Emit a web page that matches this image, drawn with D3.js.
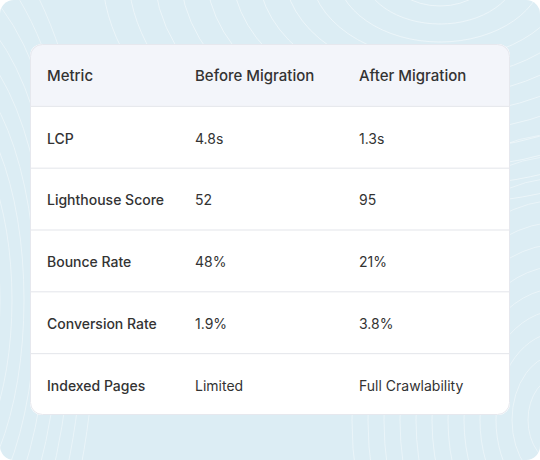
<html lang='en'>
<head>
<meta charset="utf-8">
<script src="https://d3js.org/d3.v7.min.js"></script>
<style>
  body { margin: 0; background: #fff; }
  svg { display: block; font-family: Inter, "Open Sans", sans-serif; }
</style>
</head>
<body>
<script>
var columns = ["Metric", "Before Migration", "After Migration"];
var metrics = ["LCP", "Lighthouse Score", "Bounce Rate", "Conversion Rate", "Indexed Pages"];
var before = ["4.8s", "52", "48%", "1.9%", "Limited"];
var after = ["1.3s", "95", "21%", "3.8%", "Full Crawlability"];

var W = 540, H = 460;
var card = {x: 30, y: 44, w: 480, h: 371};
var svg = d3.select("body").append("svg").attr("width", W).attr("height", H);

svg.append("clipPath").attr("id", "bgclip")
  .append("rect").attr("width", W).attr("height", H).attr("rx", 14);
var bg = svg.append("g").attr("clip-path", "url(#bgclip)");
bg.append("rect").attr("width", W).attr("height", H).attr("fill", "#dcedf4");

// faint contour lines
var rings = d3.range(1, 14);
bg.selectAll("ellipse.c1").data(rings).enter().append("ellipse")
  .attr("cx", 440).attr("cy", -30)
  .attr("rx", function(d) { return d * 26; }).attr("ry", function(d) { return d * 18; })
  .attr("fill", "none").attr("stroke", "#fff").attr("stroke-opacity", 0.45);
bg.selectAll("ellipse.c2").data(rings).enter().append("ellipse")
  .attr("cx", -60).attr("cy", 300)
  .attr("rx", function(d) { return d * 12; }).attr("ry", function(d) { return d * 30; })
  .attr("fill", "none").attr("stroke", "#fff").attr("stroke-opacity", 0.4);
bg.selectAll("ellipse.c3").data(rings).enter().append("ellipse")
  .attr("cx", 560).attr("cy", 420)
  .attr("rx", function(d) { return d * 16; }).attr("ry", function(d) { return d * 22; })
  .attr("fill", "none").attr("stroke", "#fff").attr("stroke-opacity", 0.4);

svg.append("clipPath").attr("id", "cardclip")
  .append("rect").attr("x", card.x).attr("y", card.y).attr("width", card.w).attr("height", card.h).attr("rx", 12);
var g = svg.append("g").attr("clip-path", "url(#cardclip)");
g.append("rect").attr("x", card.x).attr("y", card.y).attr("width", card.w).attr("height", card.h).attr("fill", "#fff");

var rowsData = metrics.map(function(m, i) { return [m, before[i], after[i]]; });
var y = d3.scaleBand().domain(d3.range(rowsData.length + 1)).range([card.y, card.y + card.h]);
var x = d3.scaleOrdinal().domain(columns).range([47, 195, 359]);

g.append("rect").attr("x", card.x).attr("y", y(0)).attr("width", card.w).attr("height", y.bandwidth())
  .attr("fill", "#f3f5fa");

g.selectAll("line.sep").data(d3.range(1, rowsData.length + 1)).enter().append("line")
  .attr("x1", card.x).attr("x2", card.x + card.w)
  .attr("y1", function(d) { return y(d) + 0.5; }).attr("y2", function(d) { return y(d) + 0.5; })
  .attr("stroke", "#e3e5ea");

g.selectAll("text.head").data(columns).enter().append("text")
  .attr("x", function(d) { return x(d); })
  .attr("y", y(0) + y.bandwidth() / 2 + 1).attr("dy", "0.35em")
  .attr("font-size", 15).attr("font-weight", 500).attr("fill", "#333")
  .text(function(d) { return d; });

var rows = g.selectAll("g.row").data(rowsData).enter().append("g");
rows.selectAll("text").data(function(d, i) { return d.map(function(v, j) { return {v: v, r: i + 1, c: j}; }); })
  .enter().append("text")
  .attr("x", function(d) { return x(columns[d.c]); })
  .attr("y", function(d) { return y(d.r) + y.bandwidth() / 2 + 2; }).attr("dy", "0.35em")
  .attr("font-size", 14).attr("font-weight", function(d) { return d.c === 0 ? 500 : 400; })
  .attr("fill", "#333")
  .text(function(d) { return d.v; });

svg.append("rect").attr("x", card.x + 0.5).attr("y", card.y + 0.5).attr("width", card.w - 1).attr("height", card.h - 1)
  .attr("rx", 12).attr("fill", "none").attr("stroke", "#e6e8ee");
</script>
</body>
</html>
